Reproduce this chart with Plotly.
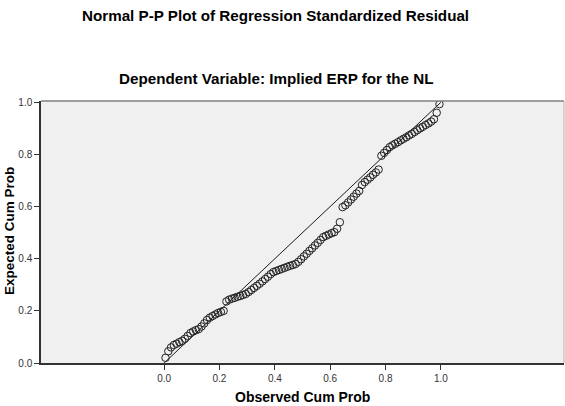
import plotly.graph_objects as go

observed = [0.005, 0.015, 0.025, 0.035, 0.045, 0.055, 0.065, 0.075, 0.085, 0.095,
            0.105, 0.115, 0.125, 0.135, 0.145, 0.155, 0.165, 0.175, 0.185, 0.195,
            0.205, 0.215, 0.225, 0.235, 0.245, 0.255, 0.265, 0.275, 0.285, 0.295,
            0.305, 0.315, 0.325, 0.335, 0.345, 0.355, 0.365, 0.375, 0.385, 0.395,
            0.405, 0.415, 0.425, 0.435, 0.445, 0.455, 0.465, 0.475, 0.485, 0.495,
            0.505, 0.515, 0.525, 0.535, 0.545, 0.555, 0.565, 0.575, 0.585, 0.595,
            0.605, 0.615, 0.625, 0.635, 0.645, 0.655, 0.665, 0.675, 0.685, 0.695,
            0.705, 0.715, 0.725, 0.735, 0.745, 0.755, 0.765, 0.775, 0.785, 0.795,
            0.805, 0.815, 0.825, 0.835, 0.845, 0.855, 0.865, 0.875, 0.885, 0.895,
            0.905, 0.915, 0.925, 0.935, 0.945, 0.955, 0.965, 0.975, 0.985, 0.995]

expected = [0.020, 0.045, 0.060, 0.069, 0.074, 0.080, 0.085, 0.093, 0.104, 0.115,
            0.121, 0.126, 0.130, 0.140, 0.152, 0.165, 0.174, 0.180, 0.186, 0.192,
            0.196, 0.200, 0.236, 0.243, 0.247, 0.250, 0.254, 0.257, 0.261, 0.265,
            0.272, 0.280, 0.288, 0.296, 0.304, 0.313, 0.322, 0.331, 0.341, 0.349,
            0.353, 0.357, 0.361, 0.365, 0.369, 0.373, 0.376, 0.380, 0.388, 0.398,
            0.409, 0.419, 0.430, 0.440, 0.451, 0.461, 0.472, 0.483, 0.488, 0.493,
            0.498, 0.502, 0.515, 0.540, 0.598, 0.605, 0.616, 0.627, 0.638, 0.650,
            0.660, 0.683, 0.694, 0.703, 0.712, 0.722, 0.731, 0.742, 0.795, 0.806,
            0.817, 0.828, 0.835, 0.841, 0.847, 0.854, 0.860, 0.866, 0.873, 0.879,
            0.886, 0.893, 0.900, 0.906, 0.913, 0.919, 0.926, 0.935, 0.960, 0.993]

ref_line = [0.0, 1.0]
tick_vals = [0.0, 0.2, 0.4, 0.6, 0.8, 1.0]

title_text = "Normal P-P Plot of Regression Standardized Residual"
subtitle_text = "Dependent Variable: Implied ERP for the NL"
x_title = "Observed Cum Prob"
y_title = "Expected Cum Prob"

FONT = "Liberation Sans, Arial, sans-serif"

fig = go.Figure()
fig.add_trace(go.Scatter(x=ref_line, y=ref_line, mode="lines",
                         line=dict(color="#1a1a1a", width=1), hoverinfo="skip"))
fig.add_trace(go.Scatter(x=observed, y=expected, mode="markers",
                         marker=dict(symbol="circle-open", size=7.5,
                                     color="#222", line=dict(width=1, color="#222"))))

fig.update_layout(
    width=565, height=406,
    margin=dict(l=41, r=1, t=101, b=43),
    paper_bgcolor="white", plot_bgcolor="#f0f0f0",
    showlegend=False,
    font=dict(family=FONT, color="#222"),
    xaxis=dict(range=[-0.445, 1.445], tickvals=tick_vals, tickformat=".1f",
               ticks="outside", ticklen=5, tickcolor="#333", showgrid=False,
               zeroline=False, showline=True, linecolor="#333", linewidth=1.5,
               tickfont=dict(size=10, color="#333", family=FONT)),
    yaxis=dict(range=[0, 1.005], tickvals=tick_vals, tickformat=".1f",
               ticks="outside", ticklen=5, tickcolor="#333", showgrid=False,
               zeroline=False, showline=True, linecolor="#333", linewidth=1.5,
               tickfont=dict(size=10, color="#333", family=FONT)),
    shapes=[
        dict(type="line", xref="paper", yref="paper", x0=0, x1=1, y0=1, y1=1,
             line=dict(color="#808080", width=1.5)),
        dict(type="line", xref="paper", yref="paper", x0=1, x1=1, y0=0, y1=1,
             line=dict(color="#b0b0b0", width=1)),
    ],
    annotations=[
        dict(text="<b>" + title_text + "</b>", xref="paper", yref="paper",
             x=(275 - 41) / 523, y=1 + (101 - 15) / 262, showarrow=False,
             xanchor="center", yanchor="middle", font=dict(size=15.2, color="black")),
        dict(text="<b>" + subtitle_text + "</b>", xref="paper", yref="paper",
             x=(276.5 - 41) / 523, y=1 + (101 - 78) / 262, showarrow=False,
             xanchor="center", yanchor="middle", font=dict(size=15.2, color="black")),
        dict(text="<b>" + x_title + "</b>", xref="paper", yref="paper",
             x=(302 - 41) / 523, y=-(397 - 363) / 262, showarrow=False,
             xanchor="center", yanchor="middle", font=dict(size=14, color="black")),
        dict(text="<b>" + y_title + "</b>", xref="paper", yref="paper",
             x=-(41 - 9) / 523, y=(363 - 231) / 262, showarrow=False, textangle=-90,
             xanchor="center", yanchor="middle", font=dict(size=13.5, color="black")),
    ],
)

fig.write_html("out.html")
